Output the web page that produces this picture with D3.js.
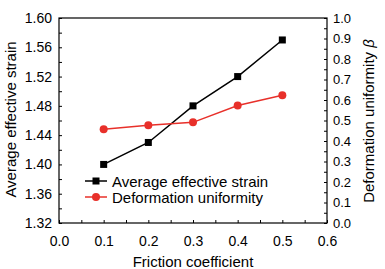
<!DOCTYPE html>
<html lang="en">
<head>
  <meta charset="utf-8">
  <title>friction</title>
  <script src="https://cdn.jsdelivr.net/npm/d3@7"></script>
  <style>
    body { margin: 0; background: #fff; }
    svg { font-family: "Liberation Sans", Arial, sans-serif; }
  </style>
</head>
<body>
  <svg id="chart" width="385" height="269"></svg>
  <script>
    var friction = [0.1, 0.2, 0.3, 0.4, 0.5];
    var strain = [1.40, 1.43, 1.48, 1.52, 1.57];
    var uniformity = [0.457, 0.477, 0.491, 0.573, 0.623];
    var xTicks = [0.0, 0.1, 0.2, 0.3, 0.4, 0.5, 0.6];
    var yLeftTicks = [1.32, 1.36, 1.40, 1.44, 1.48, 1.52, 1.56, 1.60];
    var yRightTicks = [0, 0.1, 0.2, 0.3, 0.4, 0.5, 0.6, 0.7, 0.8, 0.9, 1.0];

    // plot box (don't call it "top", that's window.top)
    var pL = 59, pR = 327, pT = 18, pB = 223;
    var red = '#e8302a';

    var svg = d3.select('#chart');
    var x = d3.scaleLinear().domain([0, 0.6]).range([pL, pR]);
    var yL = d3.scaleLinear().domain([1.32, 1.60]).range([pB, pT]);
    var yR = d3.scaleLinear().domain([0, 1]).range([pB, pT]);

    // frame
    svg.append('rect')
      .attr('x', pL).attr('y', pT)
      .attr('width', pR - pL).attr('height', pB - pT)
      .attr('fill', 'none').attr('stroke', '#000').attr('stroke-width', 1.2);

    function styleAxis(g, size) {
      g.select('.domain').remove();
      g.selectAll('line').attr('stroke', '#000');
      g.selectAll('text').attr('font-size', size).attr('fill', '#000')
        .attr('font-family', '"Liberation Sans", Arial, sans-serif');
    }

    function isIn(list, d) {
      return list.some((t) => Math.abs(t - d) < 1e-6);
    }

    // bottom axis: inward ticks every 0.05, labels on the majors
    svg.append('g')
      .attr('transform', `translate(0,${pB})`)
      .call(d3.axisBottom(x).tickValues(d3.range(0, 0.601, 0.05)).tickSize(-3).tickPadding(13)
        .tickFormat((d) => isIn(xTicks, d) ? d3.format('.1f')(d) : ''))
      .call((g) => styleAxis(g, 14));

    // left axis
    svg.append('g')
      .attr('transform', `translate(${pL},0)`)
      .call(d3.axisLeft(yL).tickValues(d3.range(1.32, 1.6001, 0.02)).tickSize(-3).tickPadding(7)
        .tickFormat((d) => isIn(yLeftTicks, d) ? d3.format('.2f')(d) : ''))
      .call((g) => styleAxis(g, 14));

    // right axis
    svg.append('g')
      .attr('transform', `translate(${pR},0)`)
      .call(d3.axisRight(yR).tickValues(d3.range(0, 1.001, 0.05)).tickSize(-3).tickPadding(6)
        .tickFormat((d) => isIn(yRightTicks, d) ? d3.format('.1f')(d) : ''))
      .call((g) => styleAxis(g, 13));

    // axis titles
    svg.append('text')
      .attr('x', (pL + pR) / 2) .attr('y', 267)
      .attr('text-anchor', 'middle').attr('font-size', 15)
      .text('Friction coefficient');

    svg.append('text')
      .attr('transform', `translate(16,${(pT + pB) / 2 - 1}) rotate(-90)`)
      .attr('text-anchor', 'middle').attr('font-size', 15)
      .text('Average effective strain');

    var rt = svg.append('text')
      .attr('transform', `translate(374,121) rotate(-90)`)
      .attr('text-anchor', 'middle').attr('font-size', 15);
    rt.append('tspan').text('Deformation uniformity ');
    rt.append('tspan').attr('font-style', 'italic').text('\u03b2');

    // strain series
    var lineL = d3.line().x((d, i) => x(friction[i])).y((d) => yL(d));
    svg.append('path').datum(strain)
      .attr('d', lineL).attr('fill', 'none').attr('stroke', '#000').attr('stroke-width', 1.5);
    svg.selectAll('.sq').data(strain).enter().append('rect')
      .attr('class', 'sq')
      .attr('x', (d, i) => x(friction[i]) - 3.5).attr('y', (d) => yL(d) - 3.5)
      .attr('width', 7).attr('height', 7).attr('fill', '#000');

    // uniformity series
    var lineR = d3.line().x((d, i) => x(friction[i])).y((d) => yR(d));
    svg.append('path').datum(uniformity)
      .attr('d', lineR).attr('fill', 'none').attr('stroke', red).attr('stroke-width', 1.5);
    svg.selectAll('.ci').data(uniformity).enter().append('circle')
      .attr('class', 'ci')
      .attr('cx', (d, i) => x(friction[i])).attr('cy', (d) => yR(d))
      .attr('r', 4).attr('fill', red);

    // legend
    var legend = [
      { name: 'Average effective strain', color: '#000', shape: 'square', y: 181 },
      { name: 'Deformation uniformity', color: red, shape: 'circle', y: 197 }
    ];
    legend.forEach((l) => {
      svg.append('line')
        .attr('x1', 85).attr('x2', 107).attr('y1', l.y).attr('y2', l.y)
        .attr('stroke', l.color).attr('stroke-width', 1.5);
      if (l.shape === 'square') {
        svg.append('rect').attr('x', 92.5).attr('y', l.y - 3.5)
          .attr('width', 7).attr('height', 7).attr('fill', l.color);
      } else {
        svg.append('circle').attr('cx', 96).attr('cy', l.y).attr('r', 4).attr('fill', l.color);
      }
      svg.append('text')
        .attr('x', 112).attr('y', l.y + 5.5)
        .attr('font-size', 15).text(l.name);
    });
  </script>
</body>
</html>
